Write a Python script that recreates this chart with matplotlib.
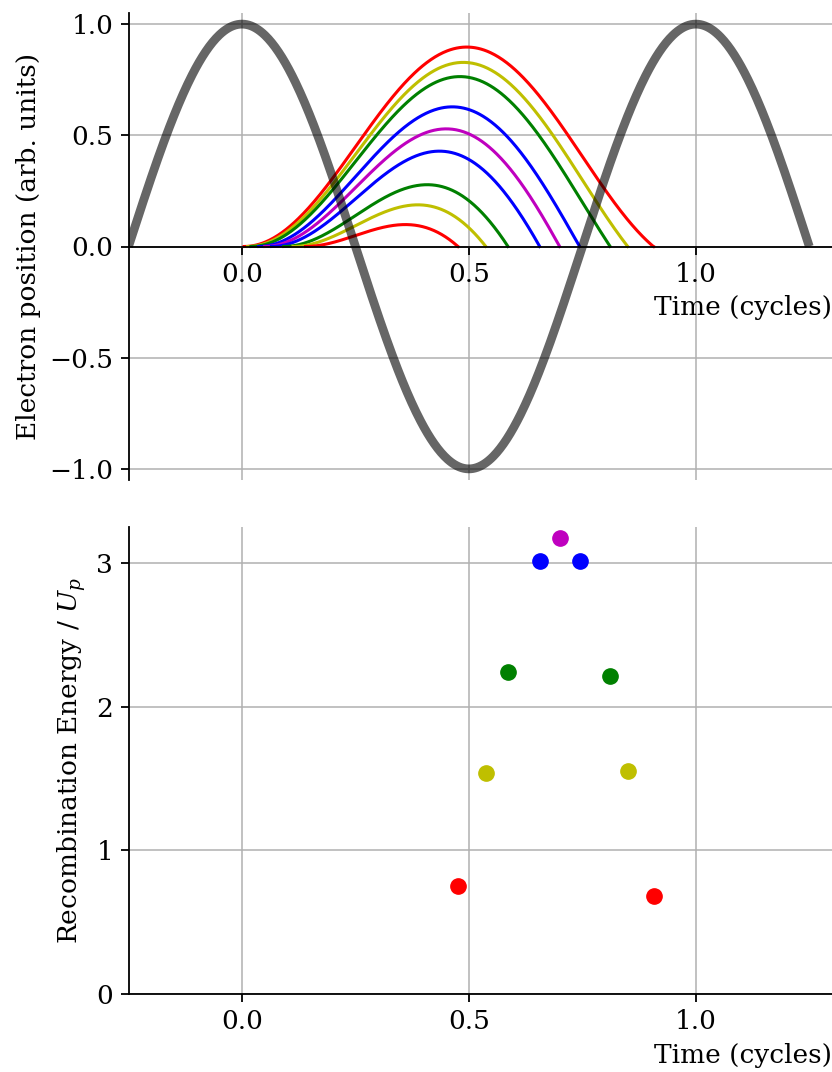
"""
Three-step model: electron trajectories in a laser field (top) and the
kinetic energy at recombination (bottom).
"""

import numpy as np
import matplotlib as mpl
mpl.use("Agg")
import matplotlib.pyplot as plt

mpl.rcParams["font.family"] = "serif"
mpl.rcParams["font.serif"] = ["DejaVu Serif"]
mpl.rcParams["mathtext.fontset"] = "dejavuserif"

# --- data ------------------------------------------------------------------
# ionisation (birth) times in laser cycles, one per trajectory
BIRTH_TIMES = [0.0047, 0.0124, 0.0198, 0.0366, 0.050, 0.065, 0.0919, 0.1125, 0.140]
# time at which each trajectory comes back to the ion (cycles)
RETURN_TIMES = [0.907, 0.850, 0.811, 0.744, 0.700, 0.656, 0.586, 0.537, 0.476]
# kinetic energy at return, in units of Up
RETURN_ENERGY = [0.68, 1.55, 2.21, 3.01, 3.17, 3.01, 2.24, 1.54, 0.75]
COLORS = ["r", "y", "g", "b", "m", "b", "g", "y", "r"]

FIELD_T = (-0.25, 1.25)      # span of the drawn laser field (cycles)
TRAJ_SCALE = 0.47            # arb. units for the excursion

FS = 19
W, H = 832, 1072
DPI = 100


def field(t):
    return np.cos(2 * np.pi * t)


def excursion(t0, t):
    """Classical excursion of an electron born at rest at t0 (cycles)."""
    p0 = 2 * np.pi * t0
    p = 2 * np.pi * t
    return TRAJ_SCALE * (np.cos(p0) - np.cos(p) - (p - p0) * np.sin(p0))


def style(ax):
    ax.spines["top"].set_visible(False)
    ax.spines["right"].set_visible(False)
    for s in ("left", "bottom"):
        ax.spines[s].set_linewidth(1.3)
    ax.tick_params(labelsize=FS, width=1.3, length=5.5, pad=5.5)
    ax.grid(True, color="#b0b0b0", linewidth=1.1)
    ax.set_axisbelow(True)
    ax.set_xlim(-0.25, 1.3)
    ax.set_xticks([0.0, 0.5, 1.0])


fig = plt.figure(figsize=(W / DPI, H / DPI), dpi=DPI)
left = 128.5 / W
width = 1 - left
ax1 = fig.add_axes([left, 1 - 480 / H, width, 467 / H])
ax2 = fig.add_axes([left, 1 - 994 / H, width, 467 / H])

# top: trajectories + field
style(ax1)
ax1.spines["bottom"].set_position(("data", 0))
for t0, tr, c in zip(BIRTH_TIMES, RETURN_TIMES, COLORS):
    t = np.linspace(t0, tr, 400)
    ax1.plot(t, np.maximum(excursion(t0, t), 0), color=c, linewidth=2.2)
tf = np.linspace(FIELD_T[0], FIELD_T[1], 600)
ax1.plot(tf, field(tf), color="k", alpha=0.6, linewidth=6.3, solid_capstyle="butt")
ax1.set_ylim(-1.05, 1.05)
ax1.set_yticks([-1.0, -0.5, 0.0, 0.5, 1.0])
ax1.set_ylabel("Electron position (arb. units)", fontsize=FS, labelpad=6)
ax1.set_xlabel("Time (cycles)", fontsize=FS, loc="right", labelpad=6)

# bottom: recombination energy
style(ax2)
for tr, e, c in zip(RETURN_TIMES, RETURN_ENERGY, COLORS):
    ax2.plot(tr, e, "o", color=c, markersize=11)
ax2.set_ylim(0, 3.25)
ax2.set_yticks([0, 1, 2, 3])
ax2.set_ylabel("Recombination Energy / $U_p$", fontsize=FS, labelpad=6)
ax2.set_xlabel("Time (cycles)", fontsize=FS, loc="right", labelpad=6)

fig.savefig("out.png", dpi=DPI, facecolor="white")
